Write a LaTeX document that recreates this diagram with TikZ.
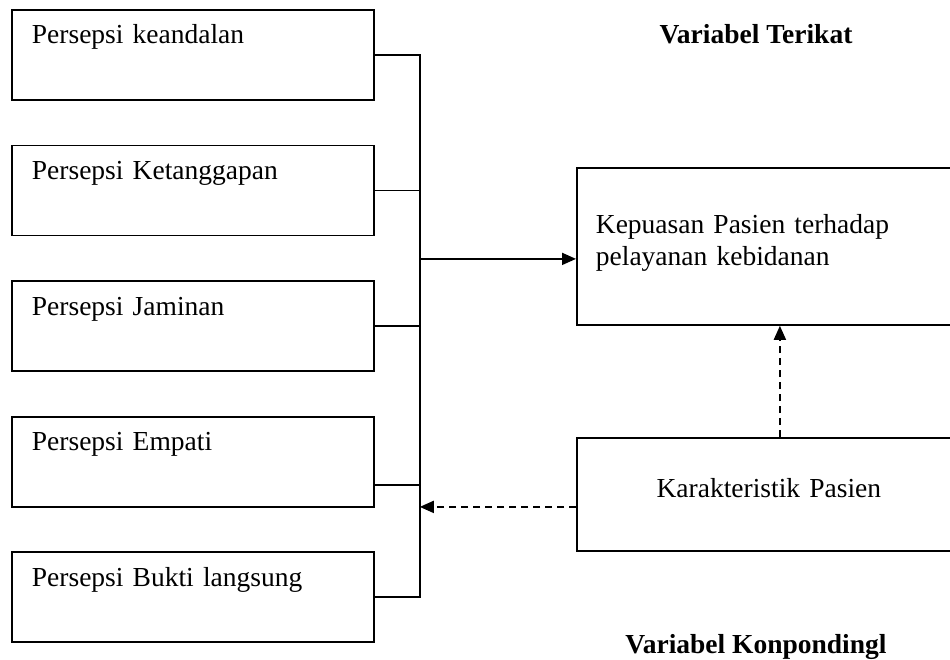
\documentclass[tikz,border=0pt]{standalone}
\usepackage{fontspec}
\setmainfont{Liberation Serif}
\usetikzlibrary{arrows.meta}
\usetikzlibrary{positioning}
\tikzset{
    persepsi/.style={
           rectangle,
           draw, line width=0.9pt,
           inner xsep=10pt, inner ysep=0pt,
           text width=161pt, align=left,
           text height=17pt, text depth=28pt,
           },
}
\tikzset{
    hasil/.style={
           rectangle,
           draw, line width=0.9pt,
           inner xsep=9.5pt, inner ysep=0pt,
           text width=173pt,
           },
}
\tikzset{
    garis/.style={line width=0.9pt},
    panah/.style={line width=0.9pt, -{Triangle[length=7pt,width=6pt]}},
    putus/.style={line width=0.9pt, dash pattern=on 3.5pt off 2.5pt, -{Triangle[length=7pt,width=6pt]}},
    judul/.style={font=\fontsize{13.75}{16}\selectfont\bfseries, anchor=base},
}

\begin{document}
\begin{tikzpicture}[x=0.5pt,y=-0.5pt,font=\fontsize{13.75}{16}\selectfont]
\useasboundingbox (0,0) rectangle (950,660);
\node[persepsi,anchor=north west](keandalan) at (11,9){Persepsi keandalan};
\node[persepsi,below=21.9pt of keandalan](tanggap){Persepsi Ketanggapan};
\node[persepsi,below=21.9pt of tanggap](jaminan){Persepsi Jaminan};
\node[persepsi,below=21.9pt of jaminan](empati){Persepsi Empati};
\node[persepsi,below=21.9pt of empati](bukti){Persepsi Bukti langsung};
\node[hasil,align=left,text height=33pt,text depth=45.5pt,anchor=north west](puas) at (576,167){Kepuasan Pasien terhadap\\pelayanan kebidanan};
\node[hasil,align=center,text height=30pt,text depth=26.5pt,anchor=north west](karakter) at (576,437){Karakteristik Pasien};
\node[judul](terikat) at (756,43){Variabel Terikat};
\node[judul](konpon) at (756,653){Variabel Konpondingl};
\coordinate[right=22.5pt of keandalan.east](atas);
\coordinate[right=22.5pt of bukti.east](bawah);
\draw[garis] (keandalan.east) -- (atas) -- (bawah) -- (bukti.east);
\draw[garis] (tanggap.east) -- (tanggap.east -| atas);
\draw[garis] (jaminan.east) -- (jaminan.east -| atas);
\draw[garis] ([yshift=-11.5pt]empati.east) -- ([yshift=-11.5pt]empati.east -| atas);
\draw[panah] ([yshift=-6.25pt]puas.west -| atas) -- ([yshift=-6.25pt]puas.west);
\draw[putus] ([yshift=-6.25pt]karakter.west) -- ([yshift=-6.25pt]karakter.west -| atas);
\draw[putus] ([xshift=5.5pt]karakter.north) -- ([xshift=5.5pt]karakter.north |- puas.south);
\end{tikzpicture}
\end{document}
